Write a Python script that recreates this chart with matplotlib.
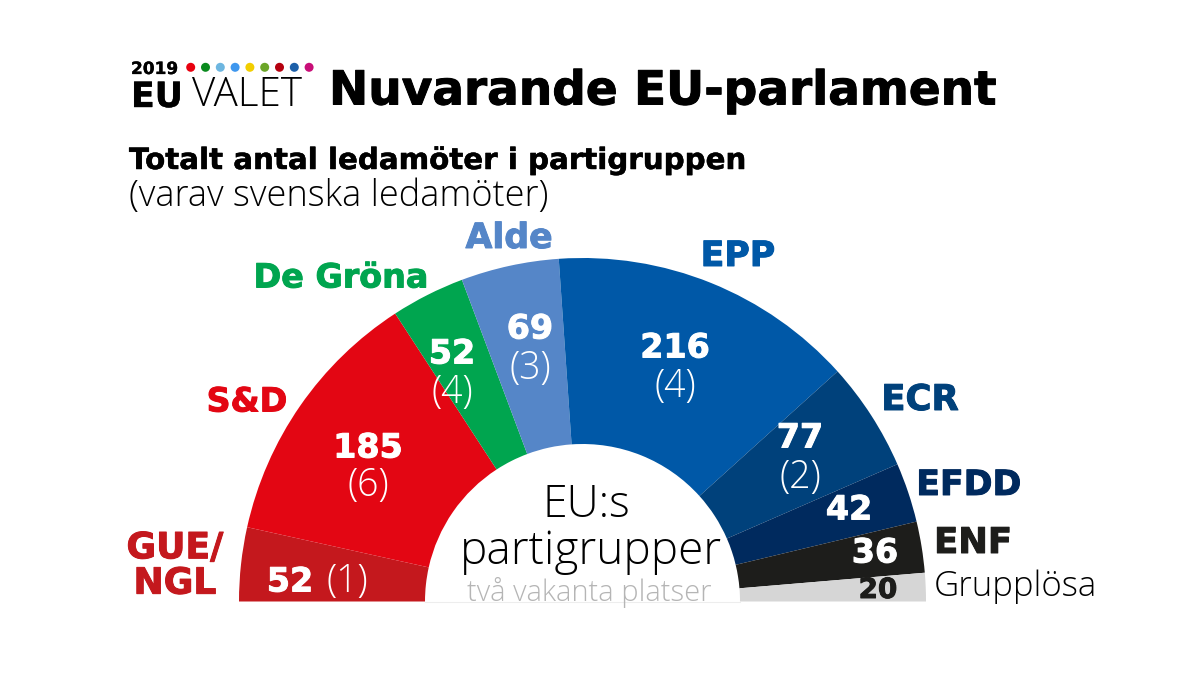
import matplotlib
matplotlib.use('Agg')
import matplotlib.pyplot as plt
import matplotlib.patheffects as pe

# Partigrupper, vänster till höger
groups = ['GUE/\nNGL', 'S&D', 'De Gröna', 'Alde', 'EPP', 'ECR', 'EFDD', 'ENF', 'Grupplösa']
seats = [52, 185, 52, 69, 216, 77, 42, 36, 20]
swedes = ['(1)', '(6)', '(4)', '(3)', '(4)', '(2)', '', '', '']
colors = ['#C4181D', '#E30613', '#00A54F', '#5586C8', '#0058A7', '#00417B', '#002A5E', '#1D1D1B', '#D6D6D6']
dot_colors = ['#E8000F', '#0A8A1E', '#6DB6E0', '#3F97EE', '#F2CE00', '#6BA528', '#B5000F', '#1C5FA8', '#C80F78']

BOLD = ['DejaVu Sans']
LIGHT = ['Open Sans', 'DejaVu Sans']

fig = plt.figure(figsize=(11.94, 7), dpi=100)
ax = fig.add_axes([0, 0, 1, 1])

# y-axeln vänds, så motsols blir vänster -> upp -> höger
cx, cy, R, r = 582.5, 601.5, 343.5, 157.5
ax.pie(seats + [sum(seats)], colors=colors + ['none'], startangle=180, counterclock=True,
       radius=R, center=(cx, cy), wedgeprops={'width': R - r, 'linewidth': 0})
ax.set_xlim(0, 1194)
ax.set_ylim(700, 0)
ax.set_aspect('auto')
ax.axis('off')
ax.plot([cx - r, cx + r], [cy, cy], color='#EDEDED', lw=0.8)


def bold(x, y, s, size, color='black', ha='center', stroke=0.7):
    t = ax.text(x, y, s, fontsize=size, color=color, ha=ha, va='center', family=BOLD, fontweight='bold',
                linespacing=1.05)
    t.set_path_effects([pe.withStroke(linewidth=stroke, foreground=color)])


def light(x, y, s, size, color='black', ha='center'):
    ax.text(x, y, s, fontsize=size, color=color, ha=ha, va='center', family=LIGHT, fontweight='light')


# Rubriker
bold(329, 92, 'Nuvarande EU-parlament', 33.8, ha='left')
bold(129, 161, 'Totalt antal ledamöter i partigruppen', 21.1, ha='left', stroke=0.35)
light(129, 197, '(varav svenska ledamöter)', 26, ha='left')

# Logotyp
bold(131, 69, '2019', 12.2, ha='left', stroke=0.2)
ax.scatter([190.7 + 14.8 * i for i in range(len(dot_colors))], [67.3] * len(dot_colors), s=42, c=dot_colors, linewidths=0)
bold(131, 97, 'EU', 25, ha='left', stroke=0.3)
light(192, 95, 'VALET', 29, ha='left')

# Gruppnamn
label_x = [175, 247, 341, 509, 738, 920, 969, 973, 1015]
label_y = [566, 402, 278, 238, 256, 400, 485, 543, 587]
label_size = [26, 24, 24, 25, 25, 25.5, 25, 25.5, 25]
label_color = colors[:-1] + ['black']
for i, name in enumerate(groups):
    if name == 'Grupplösa':
        light(label_x[i], label_y[i], name, label_size[i])
    else:
        bold(label_x[i], label_y[i], name, label_size[i], label_color[i])

# Antal ledamöter
seat_x = [290, 368, 452, 530, 675, 800, 849, 875, 878]
seat_y = [582, 448, 354, 329, 348, 438, 510, 553, 590]
seat_size = [24, 24, 24, 24, 24, 24, 24, 24, 20]
seat_color = ['white'] * 8 + ['#1D1D1B']
for i, n in enumerate(seats):
    bold(seat_x[i], seat_y[i], str(n), seat_size[i], seat_color[i])

# Svenska ledamöter
swede_x = [347, 368, 452, 530, 675, 800]
swede_y = [582, 486, 393, 369, 387, 478]
for i, s in enumerate(swedes[:6]):
    light(swede_x[i], swede_y[i], s, 27, 'white')

# Mitten
light(586, 506, 'EU:s', 32)
light(591, 552, 'partigrupper', 33)
light(589, 592, 'två vakanta platser', 21, '#B5B5B5')

fig.savefig('out.png', dpi=100)
